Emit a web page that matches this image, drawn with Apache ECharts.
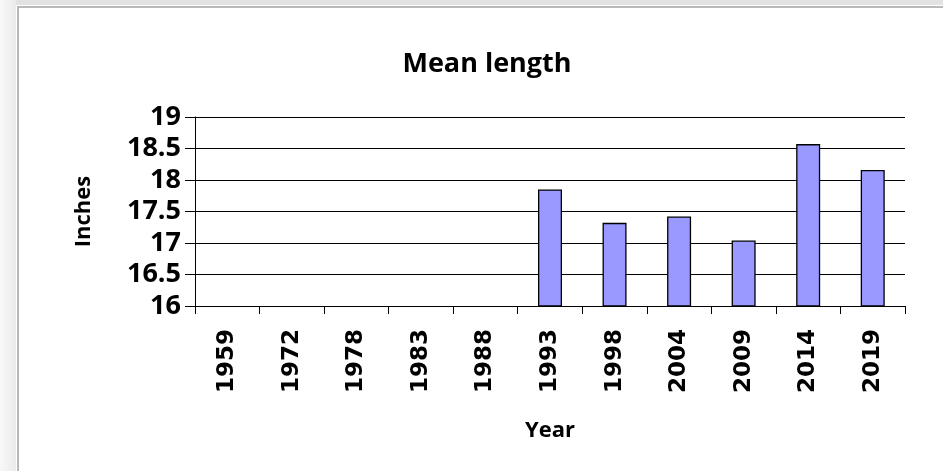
<!DOCTYPE html>
<html>
<head>
<meta charset="utf-8">
<script src="https://cdn.jsdelivr.net/npm/echarts@6/dist/echarts.min.js"></script>
<style>
html,body{margin:0;padding:0;background:#fff;}
#c{width:943px;height:471px;}
</style>
</head>
<body>
<div id="c"></div>
<script>
const years = ['1959','1972','1978','1983','1988','1993','1998','2004','2009','2014','2019'];
const meanLength = [null,null,null,null,null,17.85,17.32,17.42,17.04,18.57,18.16];
const yTicks = [16,16.5,17,17.5,18,18.5,19];

const chart = echarts.init(document.getElementById('c'), null, {renderer:'canvas'});
chart.setOption({
  animation:false,
  backgroundColor:'#ffffff',
  graphic:[
    {type:'rect',z:-10,shape:{x:0,y:0,width:943,height:5},style:{fill:'#e2e2e2'}},
    {type:'rect',z:-10,shape:{x:0,y:0,width:16,height:471},style:{fill:new echarts.graphic.LinearGradient(0,0,1,0,[{offset:0,color:'#f8f8f8'},{offset:1,color:'#ebebeb'}])}},
    {type:'rect',z:-9,shape:{x:18,y:7,width:930,height:470},style:{fill:'#ffffff',stroke:'#b8b8b8',lineWidth:2}}
  ],
  title:{
    text:'Mean length',
    left:482,top:46,textAlign:'center',
    textStyle:{fontFamily:'Open Sans',fontWeight:'bold',fontSize:27,color:'#000'}
  },
  grid:{left:195,right:38,top:117,bottom:165,containLabel:false},
  xAxis:{
    type:'category',
    data:years,
    name:'Year',
    nameLocation:'middle',
    nameGap:114,
    nameTextStyle:{fontFamily:'Open Sans',fontWeight:'bold',fontSize:22,color:'#000'},
    axisLine:{lineStyle:{color:'#000',width:1}},
    axisTick:{show:true,length:8,lineStyle:{color:'#000'},alignWithLabel:false},
    axisLabel:{rotate:90,margin:23,fontFamily:'DejaVu Sans',fontWeight:'bold',fontSize:23,color:'#000'},
    splitLine:{show:false}
  },
  yAxis:{
    type:'value',
    min:16,max:19,interval:0.5,
    name:'Inches',
    nameLocation:'middle',
    nameGap:100,
    nameRotate:90,
    nameTextStyle:{fontFamily:'Open Sans',fontWeight:'bold',fontSize:22,color:'#000'},
    axisLine:{show:true,lineStyle:{color:'#000',width:1}},
    axisTick:{show:true,length:10,lineStyle:{color:'#000'}},
    axisLabel:{margin:14,fontFamily:'Open Sans',fontWeight:'bold',fontSize:27,color:'#000',
      formatter:function(v){return yTicks.indexOf(v)>=0?String(v):'';}},
    splitLine:{show:true,lineStyle:{color:'#000',width:1}}
  },
  series:[{
    type:'bar',
    data:meanLength,
    barWidth:24,
    itemStyle:{color:'#9999ff',borderColor:'#000',borderWidth:1.3}
  }]
});
</script>
</body>
</html>
